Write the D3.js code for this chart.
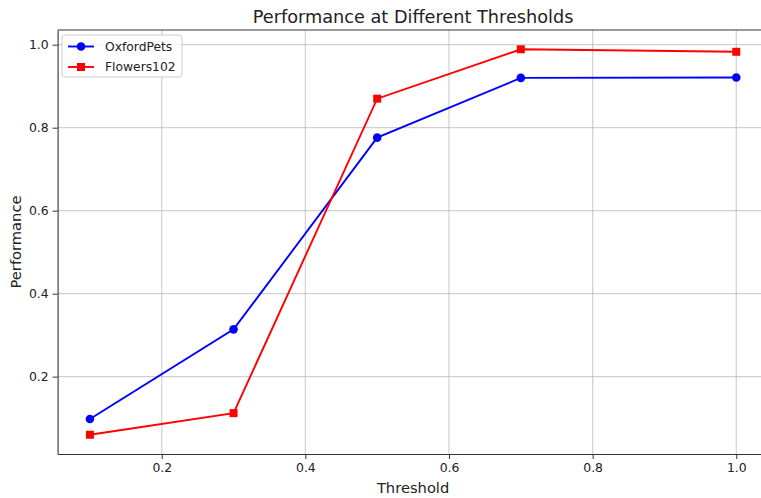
<!DOCTYPE html>
<html>
<head>
<meta charset="utf-8">
<script src="https://cdn.jsdelivr.net/npm/d3@7"></script>
<style>
  body { margin: 0; background: #fff; }
  svg { font-family: "DejaVu Sans", sans-serif; }
</style>
</head>
<body>
<div id="chart"></div>
<script>
// data
var thresholds = [0.1, 0.3, 0.5, 0.7, 1.0];
var oxfordPets = [0.098, 0.314, 0.776, 0.920, 0.921];
var flowers102 = [0.060, 0.112, 0.870, 0.989, 0.983];
var xTicks = [0.2, 0.4, 0.6, 0.8, 1.0];
var yTicks = [0.2, 0.4, 0.6, 0.8, 1.0];

var series = [
  { name: "OxfordPets", values: oxfordPets, color: "#0000ff", marker: "circle" },
  { name: "Flowers102", values: flowers102, color: "#ff0000", marker: "square" }
];

var width = 761, height = 498;
// plot area (right spine falls just outside the picture, like the original)
var margin = { top: 30, right: -7.6, bottom: 44, left: 57.6 };
var plotW = width - margin.left - margin.right,
    plotH = height - margin.top - margin.bottom;

var svg = d3.select("#chart").append("svg")
    .attr("width", width)
    .attr("height", height);

var g = svg.append("g")
    .attr("transform", "translate(" + margin.left + "," + margin.top + ")");

// matplotlib style 5% padding on the data range
var xPad = (1.0 - 0.1) * 0.05;
var allY = oxfordPets.concat(flowers102);
var yMin = d3.min(allY), yMax = d3.max(allY), yPad = (yMax - yMin) * 0.05;

var x = d3.scaleLinear().domain([0.1 - xPad, 1.0 + xPad]).range([0, plotW]);
var y = d3.scaleLinear().domain([yMin - yPad, yMax + yPad]).range([plotH, 0]);

// grid
g.append("g").selectAll("line").data(xTicks).enter().append("line")
    .attr("x1", function(d) { return x(d); }).attr("x2", function(d) { return x(d); })
    .attr("y1", 0).attr("y2", plotH)
    .attr("stroke", "#b0b0b0").attr("stroke-opacity", 0.6).attr("stroke-width", 1.2);
g.append("g").selectAll("line").data(yTicks).enter().append("line")
    .attr("y1", function(d) { return y(d); }).attr("y2", function(d) { return y(d); })
    .attr("x1", 0).attr("x2", plotW)
    .attr("stroke", "#b0b0b0").attr("stroke-opacity", 0.6).attr("stroke-width", 1.2);

// axes
var xAxis = g.append("g")
    .attr("transform", "translate(0," + plotH + ")")
    .call(d3.axisBottom(x).tickValues(xTicks).tickFormat(d3.format(".1f")).tickSize(5).tickPadding(4).tickSizeOuter(0));
var yAxis = g.append("g")
    .call(d3.axisLeft(y).tickValues(yTicks).tickFormat(d3.format(".1f")).tickSize(5).tickPadding(4).tickSizeOuter(0));

[xAxis, yAxis].forEach(function(a) {
  a.select(".domain").attr("stroke", "#333").attr("stroke-width", 1.1);
  a.selectAll(".tick line").attr("stroke", "#333").attr("stroke-width", 1);
  a.selectAll(".tick text").attr("fill", "#222").style("font-size", "12.4px").style("font-family", "DejaVu Sans");
});

// top spine
g.append("line").attr("x1", 0).attr("x2", plotW).attr("y1", 0).attr("y2", 0)
    .attr("stroke", "#333").attr("stroke-width", 1.1);

// lines and markers
var line = d3.line()
    .x(function(d, i) { return x(thresholds[i]); })
    .y(function(d) { return y(d); });

series.forEach(function(s) {
  g.append("path")
      .datum(s.values)
      .attr("fill", "none")
      .attr("stroke", s.color)
      .attr("stroke-width", 1.9)
      .attr("d", line);

  var pts = g.append("g").selectAll(".pt").data(s.values).enter();
  if (s.marker === "circle") {
    pts.append("circle")
        .attr("cx", function(d, i) { return x(thresholds[i]); })
        .attr("cy", function(d) { return y(d); })
        .attr("r", 4.3)
        .attr("fill", s.color);
  } else {
    pts.append("rect")
        .attr("x", function(d, i) { return x(thresholds[i]) - 4; })
        .attr("y", function(d) { return y(d) - 4; })
        .attr("width", 8).attr("height", 8)
        .attr("fill", s.color);
  }
});

// legend
var legend = svg.append("g").attr("transform", "translate(62,35)");
legend.append("rect")
    .attr("width", 120).attr("height", 42).attr("rx", 3)
    .attr("fill", "#fff").attr("fill-opacity", 0.8)
    .attr("stroke", "#ccc").attr("stroke-width", 1);

series.forEach(function(s, i) {
  var row = legend.append("g").attr("transform", "translate(0," + (11.5 + i * 20.5) + ")");
  row.append("line").attr("x1", 6).attr("x2", 32).attr("y1", 0).attr("y2", 0)
      .attr("stroke", s.color).attr("stroke-width", 1.9);
  if (s.marker === "circle") {
    row.append("circle").attr("cx", 19).attr("cy", 0).attr("r", 4.3).attr("fill", s.color);
  } else {
    row.append("rect").attr("x", 15).attr("y", -4).attr("width", 8).attr("height", 8).attr("fill", s.color);
  }
  row.append("text").attr("x", 43).attr("y", 4.4)
      .style("font-size", "12.3px").attr("fill", "#222")
      .text(s.name);
});

// title and axis labels
svg.append("text")
    .attr("x", margin.left + plotW / 2).attr("y", 22.5)
    .attr("text-anchor", "middle")
    .style("font-size", "17.7px").attr("fill", "#222")
    .text("Performance at Different Thresholds");

svg.append("text")
    .attr("x", margin.left + plotW / 2).attr("y", 492.5)
    .attr("text-anchor", "middle")
    .style("font-size", "14.7px").attr("fill", "#222")
    .text("Threshold");

svg.append("text")
    .attr("transform", "translate(20.5," + (margin.top + plotH / 2) + ") rotate(-90)")
    .attr("text-anchor", "middle")
    .style("font-size", "14.7px").attr("fill", "#222")
    .text("Performance");
</script>
</body>
</html>
